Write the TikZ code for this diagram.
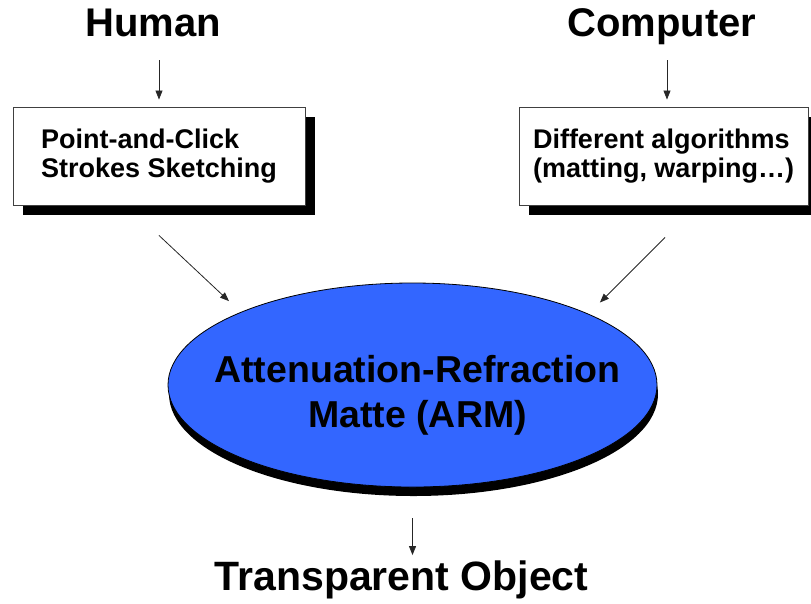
\documentclass[tikz,border=0pt]{standalone}
\usepackage{fontspec}
\setmainfont{Liberation Sans}
\usetikzlibrary{arrows.meta,shapes.geometric,shadows}

\definecolor{armblue}{RGB}{51,102,255}

\tikzset{
  title/.style={font=\fontsize{40}{46}\selectfont\bfseries, inner sep=0pt, anchor=base},
  inbox/.style={draw=black!75, fill=white, line width=0.9pt, minimum height=98pt,
    align=left, font=\fontsize{27}{29}\selectfont\bfseries,
    general shadow={fill=black, shadow xshift=10pt, shadow yshift=-10pt}},
  armshape/.style={ellipse, draw=black, fill=armblue, line width=0.8pt, inner sep=0pt,
    minimum width=489pt, minimum height=204pt,
    general shadow={fill=black, shadow xshift=1pt, shadow yshift=-9pt}},
  armtext/.style={align=center, font=\fontsize{37.5}{45}\selectfont\bfseries, inner sep=0pt},
  arr/.style={draw=black!85, line width=0.8pt, -{Triangle[length=9pt,width=7pt]}},
}

\begin{document}
\begin{tikzpicture}[x=1pt,y=-1pt]
    \useasboundingbox (0,0) rectangle (811,603);

    % Inputs
    \node [title] (human) at (153,36) {Human};
    \node [title] (computer) at (662,36) {Computer};

    % Boxes below the inputs
    \node [inbox, minimum width=292pt] (pbox) at (159,156)
        {Point-and-Click\\Strokes Sketching};
    \node [inbox, minimum width=289pt] (cbox) at (663.5,156)
        {Different algorithms\\(matting, warping\ldots)};

    % Matte in the middle
    \node [armshape] (arm) at (412.5,385) {};
    \node [armtext] (armlabel) at ([xshift=5pt,yshift=-10pt]arm.center)
        {Attenuation-Refraction\\Matte (ARM)};

    % Result
    \node [title, font=\fontsize{41}{46}\selectfont\bfseries] (object) at (401.5,590) {Transparent Object};

    % Arrows
    \draw [arr] ([yshift=-24pt]pbox.north |- human.base) -- ([yshift=7pt]pbox.north);
    \draw [arr] ([xshift=3.5pt,yshift=-24pt]cbox.north |- computer.base) -- ([xshift=3.5pt,yshift=7pt]cbox.north);
    \draw [arr, shorten >=16pt] ([yshift=-30pt]pbox.south) -- (arm.157);
    \draw [arr, shorten >=16pt] ([xshift=1.5pt,yshift=-32pt]cbox.south) -- (arm.22);
    \draw [arr, shorten <=31pt, shorten >=5pt] (arm.south) -- (arm.south |- object.north);
\end{tikzpicture}
\end{document}
